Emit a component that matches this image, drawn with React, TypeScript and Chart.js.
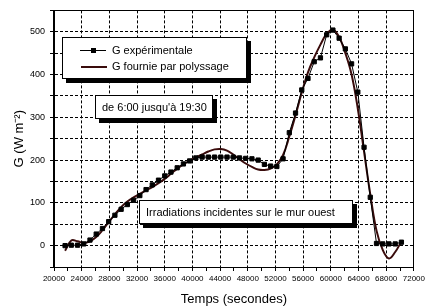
import { useEffect, useRef } from 'react';
import { Chart, registerables } from 'chart.js';

Chart.register(...registerables);

// Time of day in seconds (every 15 min, 6:00 -> 19:30)
const timeSeconds = [
  21600, 22500, 23400, 24300, 25200, 26100, 27000, 27900, 28800, 29700,
  30600, 31500, 32400, 33300, 34200, 35100, 36000, 36900, 37800, 38700,
  39600, 40500, 41400, 42300, 43200, 44100, 45000, 45900, 46800, 47700,
  48600, 49500, 50400, 51300, 52200, 53100, 54000, 54900, 55800, 56700,
  57600, 58500, 59400, 60300, 61200, 62100, 63000, 63900, 64800, 65700,
  66600, 67500, 68400, 69300, 70200,
];

const gExperimental = [
  0, 1, 1, 4, 13, 27, 40, 56, 71, 85,
  96, 106, 117, 131, 142, 153, 163, 172, 182, 191,
  198, 205, 207, 207, 207, 207, 207, 207, 205, 204,
  203, 200, 190, 186, 185, 203, 264, 310, 364, 391,
  430, 439, 493, 504, 485, 460, 425, 359, 230, 113,
  5, 4, 4, 4, 8,
];

const gFitted = [
  -12, 12, 10, 6, 10, 20, 36, 55, 73, 90,
  103, 113, 121, 129, 137, 146, 156, 168, 180, 190,
  199, 206, 213, 220, 225, 226, 222, 213, 202, 192,
  184, 178, 177, 180, 190, 212, 255, 305, 358, 405,
  440, 470, 495, 505, 488, 450, 400, 320, 220, 120,
  35, -10, -30, -15, 10,
];

const seriesLabels = ['G expérimentale', 'G fournie par polyssage'];
const boxPeriod = "de 6:00 jusqu'à 19:30";
const boxCaption = 'Irradiations incidentes sur le mur ouest';
const xTitle = 'Temps (secondes)';
const yTitle = 'G (W m\u207B\u00B2)';

const FONT = '"Liberation Sans", Arial, sans-serif';
const FIT_COLOR = '#3a0c0c';

function shadowBox(ctx: CanvasRenderingContext2D, x: number, y: number, w: number, h: number) {
  ctx.fillStyle = '#000';
  ctx.fillRect(x + 4, y + 4, w, h);
  ctx.fillStyle = '#fff';
  ctx.fillRect(x, y, w, h);
  ctx.strokeStyle = '#000';
  ctx.lineWidth = 1;
  ctx.strokeRect(x + 0.5, y + 0.5, w - 1, h - 1);
}

const overlayPlugin = {
  id: 'overlay',
  afterDatasetsDraw(chart: any) {
    const ctx: CanvasRenderingContext2D = chart.ctx;
    const a = chart.chartArea;
    ctx.save();
    // frame
    ctx.strokeStyle = '#000';
    ctx.lineWidth = 1;
    ctx.setLineDash([]);
    ctx.strokeRect(Math.round(a.left) - 0.5, Math.round(a.top) + 0.5, Math.round(a.right - a.left), Math.round(a.bottom - a.top));

    // legend box
    shadowBox(ctx, 62, 37, 185, 42);
    ctx.font = `11px ${FONT}`;
    ctx.textBaseline = 'middle';
    ctx.textAlign = 'left';
    ctx.fillStyle = '#000';
    // row 1
    ctx.strokeStyle = '#000';
    ctx.lineWidth = 1;
    ctx.beginPath();
    ctx.moveTo(80, 50.5);
    ctx.lineTo(106, 50.5);
    ctx.stroke();
    ctx.fillRect(91, 48, 5, 5);
    ctx.fillText(seriesLabels[0], 112, 51);
    // row 2
    ctx.strokeStyle = FIT_COLOR;
    ctx.lineWidth = 2;
    ctx.beginPath();
    ctx.moveTo(81, 67);
    ctx.lineTo(107, 67);
    ctx.stroke();
    ctx.fillText(seriesLabels[1], 112, 67);

    // period box
    shadowBox(ctx, 95, 95, 118, 24);
    ctx.fillStyle = '#000';
    ctx.fillText(boxPeriod, 102, 107.5);

    // caption box
    shadowBox(ctx, 139, 200, 214, 24);
    ctx.fillStyle = '#000';
    ctx.fillText(boxCaption, 146, 212.5);

    // axis titles
    ctx.font = `13px ${FONT}`;
    ctx.textAlign = 'center';
    ctx.fillText(xTitle, (a.left + a.right) / 2, 299);
    ctx.save();
    ctx.translate(19, (a.top + a.bottom) / 2);
    ctx.rotate(-Math.PI / 2);
    ctx.fillText(yTitle, 0, 0);
    ctx.restore();

    ctx.restore();
  },
};

export default function App() {
  const ref = useRef<HTMLCanvasElement | null>(null);

  useEffect(() => {
    if (!ref.current) return;
    const expPoints = timeSeconds.map((t, i) => ({ x: t, y: gExperimental[i] }));
    const fitPoints = timeSeconds.map((t, i) => ({ x: t, y: gFitted[i] }));

    const chart = new Chart(ref.current, {
      type: 'scatter',
      data: {
        datasets: [
          {
            label: seriesLabels[0],
            data: expPoints,
            showLine: true,
            borderColor: '#000',
            borderWidth: 1,
            backgroundColor: '#000',
            pointStyle: 'rect',
            pointRadius: 3,
            pointBorderWidth: 1,
            pointBorderColor: '#000',
            pointBackgroundColor: '#000',
            tension: 0,
          },
          {
            label: seriesLabels[1],
            data: fitPoints,
            showLine: true,
            borderColor: FIT_COLOR,
            borderWidth: 2,
            pointRadius: 0,
            tension: 0.4,
          },
        ],
      },
      options: {
        animation: false,
        responsive: false,
        devicePixelRatio: 1,
        layout: { padding: { left: 0, right: 13, top: 5, bottom: 0 } },
        plugins: {
          legend: { display: false },
          tooltip: { enabled: false },
        },
        scales: {
          x: {
            type: 'linear',
            min: 20000,
            max: 72000,
            afterFit: (s: any) => { s.height = 40; },
            ticks: {
              stepSize: 2000,
              autoSkip: false,
              maxRotation: 0,
              padding: 3,
              color: '#000',
              font: { family: FONT, size: 8 },
              callback: (v: any) => (Number(v) % 4000 === 0 ? String(v) : ''),
            },
            grid: {
              color: (c: any) => (c.tick && c.tick.value % 4000 === 0 ? '#000' : 'rgba(0,0,0,0)'),
              tickColor: '#000',
              tickLength: 4,
              tickBorderDash: [],
              lineWidth: 1,
            },
            border: { display: true, color: '#000', width: 1, dash: [3, 2] },
          },
          y: {
            type: 'linear',
            min: -50,
            max: 550,
            afterFit: (s: any) => { s.width = 54; },
            ticks: {
              stepSize: 50,
              autoSkip: false,
              padding: 5,
              color: '#000',
              font: { family: FONT, size: 9 },
              callback: (v: any) => (Number(v) % 100 === 0 ? String(v) : ''),
            },
            grid: {
              color: '#000',
              tickColor: '#000',
              tickLength: 4,
              tickBorderDash: [],
              lineWidth: 1,
            },
            border: { display: true, color: '#000', width: 1, dash: [3, 2] },
          },
        },
      },
      plugins: [overlayPlugin],
    });
    return () => chart.destroy();
  }, []);

  return (
    <div style={{ position: 'fixed', left: 0, top: 0, width: 428, height: 307, background: '#fff' }}>
      <canvas ref={ref} width={428} height={307} style={{ display: 'block' }} />
    </div>
  );
}
